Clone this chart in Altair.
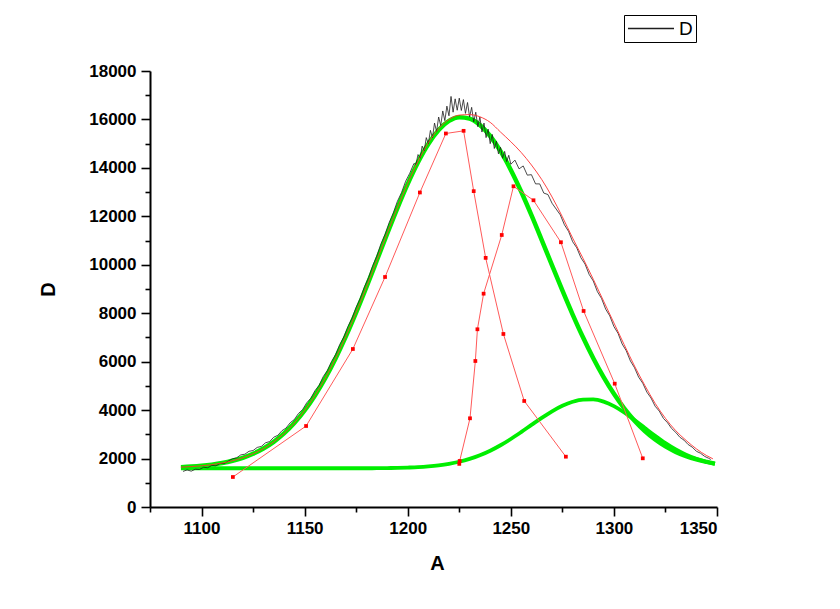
import altair as alt
import pandas as pd

# ---------------- data ----------------
# measured spectrum "D" (noisy black trace)
black_x = [1091, 1093, 1095, 1097, 1099, 1101, 1103, 1105, 1107, 1109, 1111, 1113, 1115, 1117, 1119,
           1121, 1123, 1125, 1127, 1129, 1131, 1133, 1135, 1137, 1139, 1141, 1143, 1145, 1147, 1149,
           1151, 1153, 1155, 1157, 1159, 1161, 1163, 1165, 1167, 1169, 1171, 1173, 1175, 1177, 1179,
           1181, 1183, 1185, 1187, 1189, 1191, 1193, 1195, 1197, 1199, 1201, 1203,
           1204, 1205, 1206, 1207, 1208, 1209, 1210, 1211, 1212, 1213, 1214, 1215, 1216, 1217, 1218,
           1219, 1220, 1221, 1222, 1223, 1224, 1225, 1226, 1227, 1228, 1229, 1230, 1231, 1232, 1233,
           1234, 1235, 1236, 1237, 1238, 1239, 1240, 1241, 1242, 1243, 1244, 1245, 1246, 1247, 1248,
           1249, 1250,
           1252, 1254, 1256, 1258, 1260, 1262, 1264, 1266, 1268, 1270, 1272, 1274, 1276, 1278, 1280,
           1282, 1284, 1286, 1288, 1290, 1292, 1294, 1296, 1298, 1300, 1302, 1304, 1306, 1308, 1310,
           1312, 1314, 1316, 1318, 1320, 1322, 1324, 1326, 1328, 1330, 1332, 1334, 1336, 1338, 1340,
           1342, 1344, 1346, 1347]
black_y = [1470, 1530, 1480, 1560, 1550, 1640, 1620, 1720, 1700, 1800, 1790, 1900, 1990, 2030, 2150,
           2180, 2300, 2330, 2460, 2500, 2650, 2700, 2880, 2960, 3150, 3260, 3480, 3610, 3860, 4020,
           4300, 4490, 4800, 5020, 5380, 5630, 6000, 6290, 6700, 7020, 7450, 7800, 8250, 8620, 9090,
           9470, 9960, 10360, 10860, 11260, 11740, 12140, 12620, 12980, 13450, 13780, 14180,
           14150, 14550, 14400, 14900, 14700, 15250, 15000, 15550, 15250, 15850, 15500, 16100, 15750, 16350, 15950,
           16550, 16150, 16950, 16300, 16850, 16380, 16880, 16370, 16820, 16250, 16700, 16100, 16500, 15900, 16300,
           15700, 16100, 15480, 15850, 15250, 15600, 15000, 15380, 14800, 15100, 14580, 14850, 14400, 14680, 14260,
           14520, 14150,
           14320, 13960, 14080, 13700, 13720, 13340, 13340, 12960, 12900, 12540, 12300, 12060, 11650, 11380, 10950,
           10700, 10290, 10030, 9600, 9330, 8890, 8610, 8170, 7890, 7450, 7170, 6730, 6450, 6030, 5750,
           5360, 5110, 4740, 4500, 4160, 3960, 3660, 3480, 3240, 3080, 2880, 2760, 2580, 2470, 2300,
           2220, 2090, 2010, 1960]

# cumulative fit (thin red)
fit_x = [1090, 1095, 1100, 1105, 1110, 1115, 1120, 1125, 1130, 1135, 1140, 1145, 1150, 1155, 1160,
         1165, 1170, 1175, 1180, 1185, 1190, 1195, 1200, 1205, 1210, 1215, 1220, 1225, 1230, 1235,
         1240, 1245, 1250, 1255, 1260, 1265, 1270, 1275, 1280, 1285, 1290, 1295, 1300, 1305, 1310,
         1315, 1320, 1325, 1330, 1335, 1340, 1345, 1348]
fit_y = [1645, 1668, 1701, 1749, 1816, 1909, 2033, 2198, 2414, 2690, 3037, 3466, 3985, 4602, 5318,
         6133, 7042, 8032, 9085, 10175, 11280, 12350, 13360, 14270, 15040, 15620, 16000, 16180, 16200, 16110,
         15880, 15480, 15080, 14640, 14120, 13520, 12800, 11980, 11100, 10270, 9400, 8500, 7600, 6700, 5820,
         5020, 4280, 3660, 3150, 2750, 2400, 2120, 1990]

# peak 1 (thick green, with baseline)
peak_x = [1090, 1095, 1100, 1105, 1110, 1115, 1120, 1125, 1130, 1135, 1140, 1145, 1150, 1155, 1160,
          1165, 1170, 1175, 1180, 1185, 1190, 1195, 1200, 1205, 1210, 1215, 1220, 1225, 1230, 1235,
          1240, 1245, 1250, 1255, 1260, 1265, 1270, 1275, 1280, 1285, 1290, 1295, 1300, 1305, 1310,
          1315, 1320, 1325, 1330, 1335, 1340, 1345, 1349]
peak1_y = [1645, 1668, 1701, 1749, 1816, 1909, 2033, 2198, 2414, 2690, 3037, 3466, 3985, 4602, 5318,
           6133, 7042, 8032, 9085, 10175, 11272, 12339, 13339, 14234, 14985, 15562, 15938, 16095, 16035, 15771,
           15316, 14689, 13915, 13025, 12049, 11022, 9975, 8941, 7945, 7006, 6141, 5361, 4671, 4072, 3562,
           3136, 2785, 2501, 2276, 2100, 1964, 1862, 1790]

# peak 2 (green, with baseline)
peak2_y = [1600, 1600, 1600, 1600, 1600, 1600, 1600, 1600, 1600, 1600, 1600, 1600, 1600, 1600, 1600,
           1600, 1600, 1600, 1600, 1602, 1609, 1615, 1629, 1647, 1677, 1720, 1782, 1869, 1986, 2136,
           2324, 2550, 2808, 3092, 3388, 3681, 3951, 4178, 4344, 4435, 4442, 4349, 4162, 3901, 3592,
           3262, 2937, 2635, 2373, 2156, 1986, 1858, 1780]

# red marker polylines
m1_x = [1115.2, 1150.7, 1173.4, 1189.0, 1205.9, 1218.5, 1227.1, 1232.0, 1237.8, 1246.4, 1256.5, 1276.7]
m1_y = [1239, 3344, 6523, 9496, 12985, 15420, 15530, 13040, 10285, 7143, 4377, 2077]
m2_x = [1225.0, 1225.2, 1230.2, 1232.8, 1233.8, 1236.8, 1245.6, 1251.3, 1261.0, 1274.3, 1285.3, 1300.4, 1314.0]
m2_y = [1780, 1900, 3662, 6028, 7337, 8807, 11230, 13241, 12663, 10930, 8093, 5091, 2010]

x_ticks = [1075, 1100, 1125, 1150, 1175, 1200, 1225, 1250, 1275, 1300, 1325, 1350]
y_ticks = [0, 1000, 2000, 3000, 4000, 5000, 6000, 7000, 8000, 9000, 10000, 11000, 12000,
           13000, 14000, 15000, 16000, 17000, 18000]

# ---------------- frames ----------------
black_df = pd.DataFrame({"x": black_x, "y": black_y, "s": "D"})
fit_df = pd.DataFrame({"x": fit_x, "y": fit_y})
p1_df = pd.DataFrame({"x": peak_x, "y": peak1_y})
p2_df = pd.DataFrame({"x": peak_x, "y": peak2_y})
mk_df = pd.concat([
    pd.DataFrame({"x": m1_x, "y": m1_y, "g": "a", "o": list(range(len(m1_x)))}),
    pd.DataFrame({"x": m2_x, "y": m2_y, "g": "b", "o": list(range(len(m2_x)))}),
])

FONT = "Liberation Sans"

x_axis = alt.Axis(
    values=x_ticks, format="d",
    labelExpr="datum.value % 50 === 0 ? datum.label : ''",
    tickSize={"condition": {"test": "datum.value % 50 === 0", "value": 9}, "value": 5},
    tickWidth=1.6, tickColor="black", domainColor="black", domainWidth=2,
    labelFont=FONT, labelFontSize=17, labelFontWeight="bold", labelColor="black",
    labelPadding=4, grid=False,
    titleFont=FONT, titleFontSize=20, titleFontWeight="bold", titleColor="black",
    titleX=287, titleY=56, titleBaseline="middle", titleAlign="center",
)
y_axis = alt.Axis(
    values=y_ticks, format="d",
    labelExpr="datum.value % 2000 === 0 ? datum.label : ''",
    tickSize={"condition": {"test": "datum.value % 2000 === 0", "value": 9}, "value": 5},
    tickWidth=1.6, tickColor="black", domainColor="black", domainWidth=2,
    labelFont=FONT, labelFontSize=17, labelFontWeight="bold", labelColor="black",
    labelPadding=5, grid=False,
    titleFont=FONT, titleFontSize=20, titleFontWeight="bold", titleColor="black",
    titleX=-102, titleY=218, titleAngle=270, titleBaseline="middle", titleAlign="center",
)

X = alt.X("x:Q", scale=alt.Scale(domain=[1075, 1350], nice=False, zero=False), axis=x_axis, title="A")
Y = alt.Y("y:Q", scale=alt.Scale(domain=[0, 18000], nice=False, zero=False), axis=y_axis, title="D")

green1 = alt.Chart(p1_df).mark_line(color="#00ee00", strokeWidth=4.5, interpolate="monotone").encode(x=X, y=Y)
green2 = alt.Chart(p2_df).mark_line(color="#00ee00", strokeWidth=3.8, interpolate="monotone").encode(x=X, y=Y)

black = alt.Chart(black_df).mark_line(strokeWidth=0.8).encode(
    x=X, y=Y,
    color=alt.Color("s:N", scale=alt.Scale(domain=["D"], range=["#1e1e1e"]),
                    legend=alt.Legend(title=None, orient="none", legendX=474, legendY=-56,
                                      symbolType="stroke", symbolSize=2116, symbolStrokeWidth=1.3,
                                      symbolStrokeColor="#8c8c8c", clipHeight=21,
                                      labelFont=FONT, labelFontSize=19,
                                      labelColor="black", labelOffset=4, padding=3,
                                      strokeColor="black", fillColor="white")),
)

fit = alt.Chart(fit_df).mark_line(color="#ff3030", strokeWidth=0.9, interpolate="monotone").encode(x=X, y=Y)

markers = alt.Chart(mk_df).mark_line(
    color="#ff5a5a", strokeWidth=1,
    point=alt.OverlayMarkDef(shape="square", size=14, color="#ff0000", filled=True, opacity=1),
).encode(x=X, y=Y, detail="g:N", order="o:Q")

chart = alt.layer(green1, green2, black, fit, markers).properties(
    width=567, height=436,
    autosize=alt.AutoSizeParams(type="none"),
    padding={"left": 150, "top": 71, "right": 123, "bottom": 102},
    background="white",
).configure_view(stroke=None)

chart.save("out.html", embed_options={"renderer": "svg", "actions": False})
